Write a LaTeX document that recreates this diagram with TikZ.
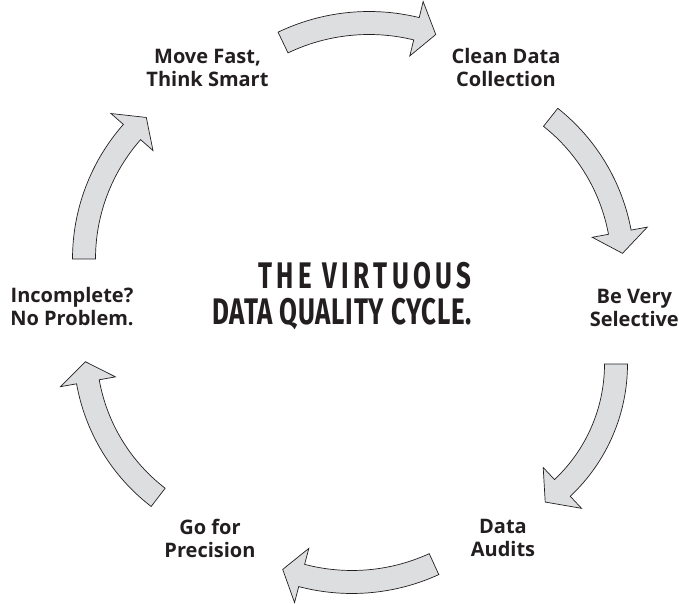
\documentclass[tikz,border=0pt]{standalone}
\usepackage{fontspec}
\setmainfont{Open Sans}
\newfontfamily\brushfont[FakeStretch=0.7]{Fira Sans}
\usetikzlibrary{positioning}
\definecolor{arrowgray}{RGB}{221,222,224}
\definecolor{ink}{RGB}{35,31,32}

\newcommand{\shaftw}{11.5}
\newcommand{\headw}{28}
% block arrow on an arc: hub, radius, shaft start, shaft end, tip angle
\newcommand{\cyclearrow}[5]{%
  \draw[flow] ([shift={(#3:#2+\shaftw)}]#1) arc[start angle=#3, end angle=#4, radius=#2+\shaftw]
    -- ([shift={(#4:#2+\headw)}]#1) -- ([shift={(#5:#2)}]#1) -- ([shift={(#4:#2-\headw)}]#1)
    -- ([shift={(#4:#2-\shaftw)}]#1) arc[start angle=#4, end angle=#3, radius=#2-\shaftw] -- cycle;}

\begin{document}
\begin{tikzpicture}[
    x=1pt, y=1pt,
    stage/.style={align=center, text=ink, inner sep=0pt, font=\fontsize{20}{23}\selectfont\bfseries},
    flow/.style={draw=ink, fill=arrowgray, line width=0.7pt, line join=miter},
    headline/.style={align=right, text=ink, inner sep=0pt, font=\brushfont\fontsize{37}{36}\selectfont\bfseries}
]
    \useasboundingbox (0,0) rectangle (679,603);

    % Stationen im Kreis
    \node[stage] (move) at (207.5,535) {Move Fast,\\Think Smart};
    \node[stage] (clean) at (506,535) {Clean Data\\Collection};
    \node[stage, anchor=east] (select) at (679,295) {Be Very\\Selective};
    \node[stage] (audit) at (503,65) {Data\\Audits};
    \node[stage] (precise) at (210,65) {Go for\\Precision};
    \node[stage] (incompl) at (72,296) {Incomplete?\\No Problem.};

    % Titel in der Mitte
    \node[headline, anchor=east] (title) at (472,307)
        {{\addfontfeature{LetterSpace=12}THE VIRTUOUS}\\{\addfontfeature{LetterSpace=2}DATA QUALITY CYCLE.}};

    % Mittelpunkte der Bogenpfeile
    \coordinate (hubA) at (369,381);
    \coordinate (hubB) at (432,336);
    \coordinate (hubC) at (446,239);
    \coordinate (hubD) at (352,218);
    \coordinate (hubE) at (276,344);
    \coordinate (hubF) at (272,254);

    % Pfeile im Uhrzeigersinn
    \cyclearrow{hubA}{199}{115.6}{76.2}{70.4}
    \cyclearrow{hubB}{191}{51.6}{10.5}{4.1}
    \cyclearrow{hubC}{170}{0}{-46.8}{-54.3}
    \cyclearrow{hubD}{197}{-65.4}{-104.8}{-110.6}
    \cyclearrow{hubF}{187}{232.5}{190.1}{183.9}
    \cyclearrow{hubE}{192}{180}{138.6}{132.5}
\end{tikzpicture}
\end{document}
